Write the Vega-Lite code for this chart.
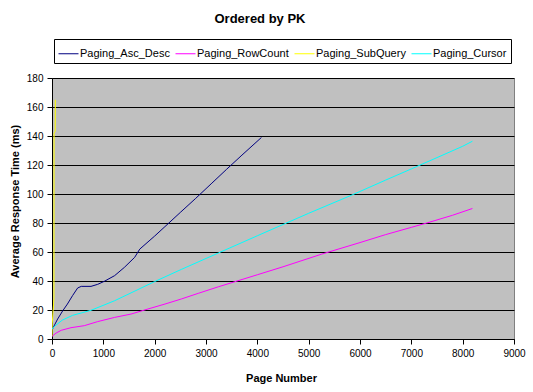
{
  "$schema": "https://vega.github.io/schema/vega-lite/v6.json",
  "autosize": "none",
  "width": 462,
  "height": 261,
  "padding": {"left": 52, "top": 78, "right": 19, "bottom": 53},
  "background": "white",
  "title": {
    "text": "Ordered by PK",
    "font": "Liberation Sans",
    "fontSize": 13,
    "fontWeight": "bold",
    "color": "black",
    "anchor": "middle",
    "frame": "group",
    "baseline": "alphabetic",
    "offset": 3,
    "dx": -23
  },
  "config": {
    "view": {"fill": "#C0C0C0", "stroke": "#808080", "strokeWidth": 1},
    "axis": {
      "labelFont": "Liberation Sans",
      "labelFontSize": 10,
      "labelColor": "black",
      "titleFont": "Liberation Sans",
      "titleFontSize": 11,
      "titleFontWeight": "bold",
      "titleColor": "black",
      "domainColor": "black",
      "tickColor": "black",
      "tickSize": 5,
      "gridColor": "black",
      "gridOpacity": 1
    },
    "legend": {
      "orient": "none",
      "legendX": 2,
      "legendY": -39,
      "direction": "horizontal",
      "symbolType": "stroke",
      "symbolSize": 400,
      "symbolStrokeWidth": 1,
      "labelFont": "Liberation Sans",
      "labelFontSize": 11,
      "labelColor": "black",
      "strokeColor": "black",
      "fillColor": "white",
      "padding": 4,
      "columnPadding": 3,
      "labelOffset": 1
    }
  },
  "data": {
    "values": [
      {"series": "Paging_Asc_Desc", "page": 0, "ms": 6.2},
      {"series": "Paging_Asc_Desc", "page": 50, "ms": 9.7},
      {"series": "Paging_Asc_Desc", "page": 110, "ms": 13.8},
      {"series": "Paging_Asc_Desc", "page": 210, "ms": 19.5},
      {"series": "Paging_Asc_Desc", "page": 300, "ms": 24.1},
      {"series": "Paging_Asc_Desc", "page": 400, "ms": 29.9},
      {"series": "Paging_Asc_Desc", "page": 500, "ms": 35.2},
      {"series": "Paging_Asc_Desc", "page": 570, "ms": 36.3},
      {"series": "Paging_Asc_Desc", "page": 760, "ms": 36.3},
      {"series": "Paging_Asc_Desc", "page": 890, "ms": 37.7},
      {"series": "Paging_Asc_Desc", "page": 1020, "ms": 39.8},
      {"series": "Paging_Asc_Desc", "page": 1220, "ms": 43.7},
      {"series": "Paging_Asc_Desc", "page": 1410, "ms": 49.4},
      {"series": "Paging_Asc_Desc", "page": 1610, "ms": 56.3},
      {"series": "Paging_Asc_Desc", "page": 1710, "ms": 62},
      {"series": "Paging_Asc_Desc", "page": 2000, "ms": 71},
      {"series": "Paging_Asc_Desc", "page": 2200, "ms": 77.5},
      {"series": "Paging_Asc_Desc", "page": 2500, "ms": 87.3},
      {"series": "Paging_Asc_Desc", "page": 2800, "ms": 97},
      {"series": "Paging_Asc_Desc", "page": 3100, "ms": 107},
      {"series": "Paging_Asc_Desc", "page": 3400, "ms": 117},
      {"series": "Paging_Asc_Desc", "page": 3700, "ms": 126.8},
      {"series": "Paging_Asc_Desc", "page": 4080, "ms": 139},

      {"series": "Paging_RowCount", "page": 0, "ms": 1.8},
      {"series": "Paging_RowCount", "page": 80, "ms": 4.1},
      {"series": "Paging_RowCount", "page": 180, "ms": 6},
      {"series": "Paging_RowCount", "page": 370, "ms": 7.8},
      {"series": "Paging_RowCount", "page": 630, "ms": 9.2},
      {"series": "Paging_RowCount", "page": 890, "ms": 12},
      {"series": "Paging_RowCount", "page": 1220, "ms": 14.9},
      {"series": "Paging_RowCount", "page": 1540, "ms": 17.2},
      {"series": "Paging_RowCount", "page": 1870, "ms": 20.7},
      {"series": "Paging_RowCount", "page": 2200, "ms": 24.1},
      {"series": "Paging_RowCount", "page": 2520, "ms": 27.6},
      {"series": "Paging_RowCount", "page": 2850, "ms": 31.5},
      {"series": "Paging_RowCount", "page": 3240, "ms": 36},
      {"series": "Paging_RowCount", "page": 4000, "ms": 44.3},
      {"series": "Paging_RowCount", "page": 4500, "ms": 49.8},
      {"series": "Paging_RowCount", "page": 5250, "ms": 58.5},
      {"series": "Paging_RowCount", "page": 6000, "ms": 66.5},
      {"series": "Paging_RowCount", "page": 6500, "ms": 72},
      {"series": "Paging_RowCount", "page": 7000, "ms": 77},
      {"series": "Paging_RowCount", "page": 7300, "ms": 80},
      {"series": "Paging_RowCount", "page": 7800, "ms": 85.3},
      {"series": "Paging_RowCount", "page": 8190, "ms": 90},

      {"series": "Paging_SubQuery", "page": 0, "ms": 2},
      {"series": "Paging_SubQuery", "page": 5, "ms": 11},
      {"series": "Paging_SubQuery", "page": 38, "ms": 28},
      {"series": "Paging_SubQuery", "page": 40, "ms": 142},
      {"series": "Paging_SubQuery", "page": 62, "ms": 143},
      {"series": "Paging_SubQuery", "page": 65, "ms": 165},

      {"series": "Paging_Cursor", "page": 0, "ms": 6.9},
      {"series": "Paging_Cursor", "page": 50, "ms": 8.8},
      {"series": "Paging_Cursor", "page": 200, "ms": 13},
      {"series": "Paging_Cursor", "page": 400, "ms": 16.3},
      {"series": "Paging_Cursor", "page": 760, "ms": 19.8},
      {"series": "Paging_Cursor", "page": 1220, "ms": 26.4},
      {"series": "Paging_Cursor", "page": 2000, "ms": 39.6},
      {"series": "Paging_Cursor", "page": 2520, "ms": 48},
      {"series": "Paging_Cursor", "page": 3240, "ms": 59.3},
      {"series": "Paging_Cursor", "page": 4000, "ms": 71.2},
      {"series": "Paging_Cursor", "page": 5000, "ms": 86.7},
      {"series": "Paging_Cursor", "page": 5830, "ms": 99.1},
      {"series": "Paging_Cursor", "page": 6500, "ms": 109.6},
      {"series": "Paging_Cursor", "page": 7000, "ms": 117.3},
      {"series": "Paging_Cursor", "page": 7500, "ms": 125.1},
      {"series": "Paging_Cursor", "page": 8000, "ms": 132.9},
      {"series": "Paging_Cursor", "page": 8190, "ms": 136.4}
    ]
  },
  "mark": {"type": "line", "strokeWidth": 1, "clip": true},
  "encoding": {
    "x": {
      "field": "page",
      "type": "quantitative",
      "scale": {"domain": [0, 9000], "nice": false, "zero": true},
      "axis": {
        "title": "Page Number",
        "format": "d",
        "values": [0, 1000, 2000, 3000, 4000, 5000, 6000, 7000, 8000, 9000],
        "grid": false,
        "labelPadding": 4,
        "labelFlush": false,
        "titleX": 229,
        "titleY": 42,
        "titleBaseline": "alphabetic"
      }
    },
    "y": {
      "field": "ms",
      "type": "quantitative",
      "scale": {"domain": [0, 180], "nice": false},
      "axis": {
        "title": "Average Response Time (ms)",
        "values": [0, 20, 40, 60, 80, 100, 120, 140, 160, 180],
        "grid": true,
        "labelPadding": 4,
        "labelFlush": false,
        "titleX": -34,
        "titleY": 123,
        "titleAngle": 270,
        "titleAlign": "center",
        "titleBaseline": "alphabetic"
      }
    },
    "color": {
      "field": "series",
      "type": "nominal",
      "scale": {
        "domain": ["Paging_Asc_Desc", "Paging_RowCount", "Paging_SubQuery", "Paging_Cursor"],
        "range": ["#000080", "#FF00FF", "#FFFF00", "#00FFFF"]
      },
      "legend": {"title": null}
    },
    "order": {"field": "page", "type": "quantitative"}
  }
}
